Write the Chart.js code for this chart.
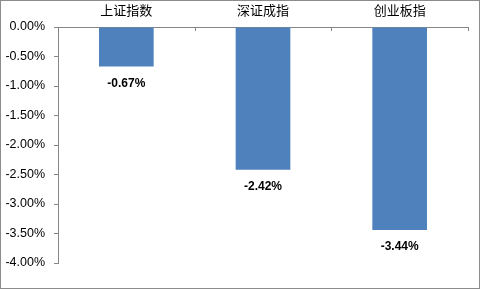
<!DOCTYPE html>
<html>
<head>
<meta charset="utf-8">
<script src="https://cdn.jsdelivr.net/npm/chart.js@4"></script>
<style>
  html,body{margin:0;padding:0;background:#fff;}
  #wrap{width:480px;height:289px;position:relative;}
</style>
</head>
<body>
<div id="wrap"><canvas id="chart1" width="480" height="289"></canvas></div>
<script>
const labels = ["上证指数","深证成指","创业板指"];
const values = [-0.67,-2.42,-3.44];
const yMin = -4, yMax = 0, yStep = 0.5;
const FONT = "'Liberation Sans','Noto Sans CJK SC',sans-serif";

// frame round the whole picture, inward ticks on the top axis, value labels under bars
const extras = {
  id: "extras",
  afterDatasetsDraw(chart){
    const ctx = chart.ctx, a = chart.chartArea;
    ctx.save();
    ctx.strokeStyle = "#868686"; ctx.lineWidth = 1;
    // category boundary ticks pointing into the plot
    let w = (a.right - a.left) / labels.length;
    for (let i=1;i<=labels.length;++i) {
      let px = Math.round(a.left + i*w) + 0.5;
      ctx.beginPath(); ctx.moveTo(px, a.top); ctx.lineTo(px, a.top+4); ctx.stroke();
    }
    // value labels
    ctx.fillStyle = "#000";
    ctx.font = "bold 12px " + FONT;
    ctx.textAlign = "center"; ctx.textBaseline = "middle";
    let meta = chart.getDatasetMeta(0);
    meta.data.forEach((bar,i) => {
      ctx.fillText(values[i].toFixed(2)+"%", bar.x, bar.y + 17);
    });
    // outer border
    ctx.strokeStyle = "#8c8c8c";
    ctx.strokeRect(0.5, 0.5, chart.width-1, chart.height-1);
    ctx.restore();
  }
};

new Chart(document.getElementById("chart1"), {
  type: "bar",
  data: { labels: labels, datasets: [{ data: values, backgroundColor: "#4F81BD", borderWidth: 0, categoryPercentage: 1, barPercentage: 0.4 }] },
  options: {
    responsive: false,
    animation: false,
    layout: { padding: { left: 0, right: 12, top: 0, bottom: 26 } },
    plugins: { legend: { display:false }, tooltip: { enabled:false } },
    scales: {
      x: {
        position: "top",
        grid: { display:false, drawTicks:false },
        border: { display:true, color:"#868686", width:1 },
        ticks: { color:"#000", font:{ family:FONT, size:13 }, padding: 8 },
        afterFit(s){ s.height = 27; }
      },
      y: {
        min: yMin, max: yMax,
        grid: { display:true, drawOnChartArea:false, drawTicks:true, tickLength:4, color:"#868686" },
        border: { display:true, color:"#868686", width:1 },
        ticks: { stepSize: yStep, color:"#000", font:{ family:FONT, size:12.5 }, padding: 9,
                 callback: v => v.toFixed(2)+"%" },
        afterFit(s){ s.width = 58; }
      }
    }
  },
  plugins: [extras]
});
</script>
</body>
</html>
